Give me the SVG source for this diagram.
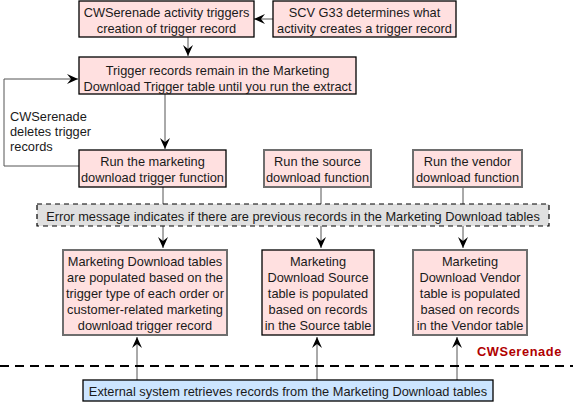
<svg xmlns="http://www.w3.org/2000/svg" width="573" height="402" viewBox="0 0 573 402">
<style>
text{font-family:"Liberation Sans",Arial,sans-serif;font-size:12.8px;fill:#1a1a1a;text-anchor:middle}
.pink{fill:#ffe0e0;stroke:#000;stroke-width:1.3}
.pinkg{fill:#ffe0e0;stroke:#6e6e6e;stroke-width:2}
.err{fill:#e0e0e0;stroke:#000;stroke-width:1.2;stroke-dasharray:5,4}
.blue{fill:#cce5ff;stroke:#000;stroke-width:1.3}
.ca{fill:none;stroke:#555;stroke-width:1;marker-end:url(#ah)}
.red{fill:#b00000;font-weight:bold;letter-spacing:0.6px;text-anchor:start}
</style>
<defs>
<marker id="ah" viewBox="0 0 12 10" refX="11" refY="5" markerWidth="12" markerHeight="10" markerUnits="userSpaceOnUse" orient="auto">
<path d="M0,0 L11,5 L0,10 L4,5 Z" fill="#000"/>
</marker>
</defs>
<g id="connectors">
<line class="ca" x1="273" y1="19" x2="254" y2="19"/>
<line class="ca" x1="188" y1="37" x2="188" y2="56"/>
<line class="ca" x1="165" y1="94" x2="165" y2="149"/>
<polyline class="ca" points="79,166 4,166 4,79 78,79"/>
<line class="ca" x1="163" y1="187" x2="163" y2="248"/>
<line class="ca" x1="321" y1="187" x2="321" y2="248"/>
<line class="ca" x1="463" y1="187" x2="463" y2="248"/>
<line class="ca" x1="137" y1="380" x2="137" y2="337"/>
<line class="ca" x1="317" y1="380" x2="317" y2="337"/>
<line class="ca" x1="457" y1="380" x2="457" y2="337"/>
<line x1="0" y1="366" x2="573" y2="366" stroke="#000" stroke-width="2" stroke-dasharray="9,6"/>
</g>
<g id="n1"><rect class="pink" x="79" y="1" width="175" height="36"/><text x="166.5" y="17">CWSerenade activity triggers</text><text x="166.5" y="33">creation of trigger record</text></g>
<g id="n2"><rect class="pink" x="273" y="1" width="183" height="36"/><text x="364.5" y="17">SCV G33 determines what</text><text x="364.5" y="33">activity creates a trigger record</text></g>
<g id="n3"><rect class="pink" x="79" y="57" width="277" height="37"/><text x="217.5" y="75">Trigger records remain in the Marketing</text><text x="217.5" y="91">Download Trigger table until you run the extract</text></g>
<g id="lbl"><text x="10" y="121" style="text-anchor:start">CWSerenade</text><text x="10" y="136" style="text-anchor:start">deletes trigger</text><text x="10" y="151" style="text-anchor:start">records</text></g>
<g id="n4"><rect class="pink" x="79" y="150" width="147" height="37"/><text x="152.5" y="166">Run the marketing</text><text x="152.5" y="182">download trigger function</text></g>
<g id="n5"><rect class="pinkg" x="264" y="150" width="107" height="37"/><text x="317.5" y="166">Run the source</text><text x="317.5" y="182">download function</text></g>
<g id="n6"><rect class="pinkg" x="413" y="150" width="109" height="37"/><text x="467.5" y="166">Run the vendor</text><text x="467.5" y="182">download function</text></g>
<g id="err"><rect class="err" x="37" y="204" width="512" height="22"/><text x="293" y="221">Error message indicates if there are previous records in the Marketing Download tables</text></g>
<g id="n7"><rect class="pinkg" x="63" y="250" width="164" height="85"/><text x="145" y="266">Marketing Download tables</text><text x="145" y="282">are populated based on the</text><text x="145" y="298">trigger type of each order or</text><text x="145" y="314">customer-related marketing</text><text x="145" y="330">download trigger record</text></g>
<g id="n8"><rect class="pink" x="262" y="250" width="112" height="85"/><text x="318" y="266">Marketing</text><text x="318" y="282">Download Source</text><text x="318" y="298">table is populated</text><text x="318" y="314">based on records</text><text x="318" y="330">in the Source table</text></g>
<g id="n9"><rect class="pinkg" x="413" y="250" width="114" height="85"/><text x="470" y="266">Marketing</text><text x="470" y="282">Download Vendor</text><text x="470" y="298">table is populated</text><text x="470" y="314">based on records</text><text x="470" y="330">in the Vendor table</text></g>
<g id="zone"><text class="red" x="477" y="356">CWSerenade</text></g>
<g id="n10"><rect class="blue" x="83" y="380" width="410" height="21"/><text x="288" y="396">External system retrieves records from the Marketing Download tables</text></g>
</svg>
